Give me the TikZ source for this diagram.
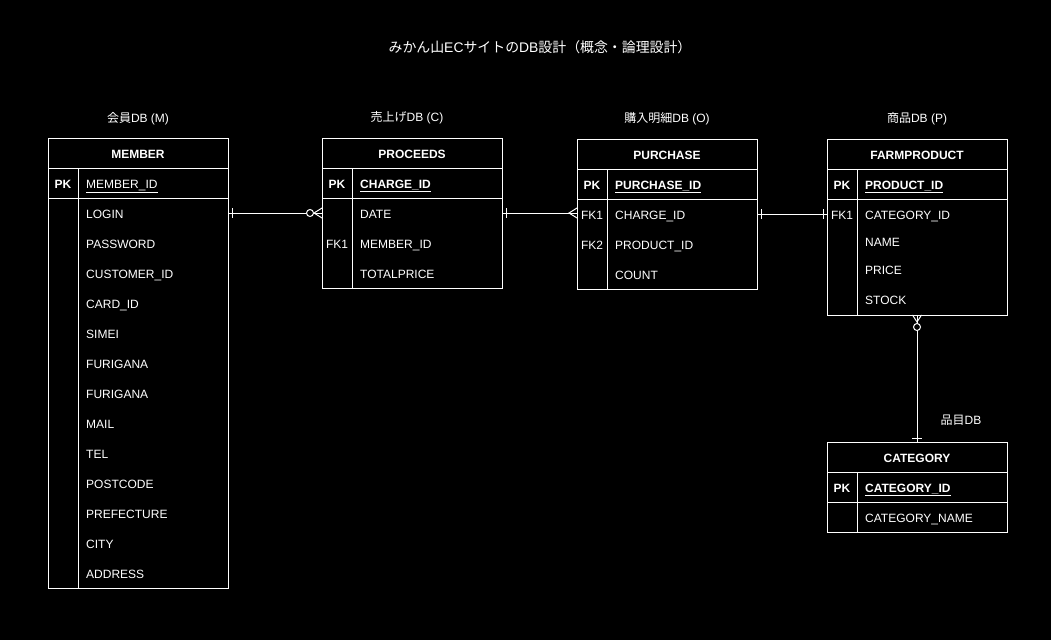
\documentclass[tikz,border=0pt]{standalone}
\usepackage{fontspec}
\setmainfont{Liberation Sans}
\newfontfamily\cjk{Noto Sans CJK JP}
\usetikzlibrary{calc}
\tikzset{x=1pt,y=-1pt,
 tbl/.style={draw=white, line width=1pt, anchor=north west, minimum width=180pt, inner sep=0pt, outer sep=0pt},
 sep/.style={draw=white, line width=1pt},
 txt/.style={text=white, font=\fontsize{12}{14}\selectfont, inner sep=0pt, text height=8.6pt, text depth=0pt, yshift=-0.8pt},
 hdr/.style={txt, font=\fontsize{12}{14}\selectfont\bfseries},
 fld/.style={txt, anchor=west},
 pkf/.style={txt, anchor=west, font=\fontsize{12}{14}\selectfont\bfseries},
 key/.style={txt},
 keyb/.style={txt, font=\fontsize{12}{14}\selectfont\bfseries},
 lbl/.style={txt},
 conn/.style={draw=white, line width=1pt}}
\begin{document}
\begin{tikzpicture}
\useasboundingbox (0,0) rectangle (1051,640);
\fill[black] (0,0) rectangle (1051,640);

% title and labels
\node[lbl, font=\fontsize{13.9}{16}\selectfont, text height=10pt] (title) at (540,47) {{\cjk みかん山}EC{\cjk サイトの}DB{\cjk 設計（概念・論理設計）}};
\node[lbl] (lm) at (138,117) {{\cjk 会員}DB (M)};
\node[lbl] (lc) at (407,116) {{\cjk 売上げ}DB (C)};
\node[lbl] (lo) at (667,117) {{\cjk 購入明細}DB (O)};
\node[lbl] (lp) at (917,117) {{\cjk 商品}DB (P)};
\node[lbl] (lk) at (961,419) {{\cjk 品目}DB};

% MEMBER
\node[tbl, minimum height=450pt] (member) at (48,138) {};
\draw[sep] (48,168) -- (228,168);
\draw[sep] (48,198) -- (228,198);
\draw[sep] (78,168) -- (78,588);
\node[hdr] (mh) at (138,153) {MEMBER};
\node[keyb] (mpk) at (63,183) {PK};
\node[fld] (mid) at (86,183) {\underline{MEMBER\_ID}};
\node[fld] (mlogin) at (86,213) {LOGIN};
\node[fld] (mpass) at (86,243) {PASSWORD};
\node[fld] (mcust) at (86,273) {CUSTOMER\_ID};
\node[fld] (mcard) at (86,303) {CARD\_ID};
\node[fld] (msimei) at (86,333) {SIMEI};
\node[fld] (mfuri1) at (86,363) {FURIGANA};
\node[fld] (mfuri2) at (86,393) {FURIGANA};
\node[fld] (mmail) at (86,423) {MAIL};
\node[fld] (mtel) at (86,453) {TEL};
\node[fld] (mpost) at (86,483) {POSTCODE};
\node[fld] (mpref) at (86,513) {PREFECTURE};
\node[fld] (mcity) at (86,543) {CITY};
\node[fld] (maddr) at (86,573) {ADDRESS};

% PROCEEDS
\node[tbl, minimum height=150pt] (proceeds) at (322,138) {};
\draw[sep] (322,168) -- (502,168);
\draw[sep] (322,198) -- (502,198);
\draw[sep] (352,168) -- (352,288);
\node[hdr] (ph) at (412,153) {PROCEEDS};
\node[keyb] (ppk) at (337,183) {PK};
\node[pkf] (pid) at (360,183) {\underline{CHARGE\_ID}};
\node[fld] (pdate) at (360,213) {DATE};
\node[key] (pfk) at (337,243) {FK1};
\node[fld] (pmem) at (360,243) {MEMBER\_ID};
\node[fld] (ptot) at (360,273) {TOTALPRICE};

% PURCHASE
\node[tbl, minimum height=150pt] (purchase) at (577,139) {};
\draw[sep] (577,169) -- (757,169);
\draw[sep] (577,199) -- (757,199);
\draw[sep] (607,169) -- (607,289);
\node[hdr] (uh) at (667,154) {PURCHASE};
\node[keyb] (upk) at (592,184) {PK};
\node[pkf] (uid) at (615,184) {\underline{PURCHASE\_ID}};
\node[key] (ufk1) at (592,214) {FK1};
\node[fld] (uchg) at (615,214) {CHARGE\_ID};
\node[key] (ufk2) at (592,244) {FK2};
\node[fld] (uprod) at (615,244) {PRODUCT\_ID};
\node[fld] (ucnt) at (615,274) {COUNT};

% FARMPRODUCT
\node[tbl, minimum height=176pt] (farm) at (827,139) {};
\draw[sep] (827,169) -- (1007,169);
\draw[sep] (827,199) -- (1007,199);
\draw[sep] (857,169) -- (857,315);
\node[hdr] (fh) at (917,154) {FARMPRODUCT};
\node[keyb] (fpk) at (842,184) {PK};
\node[pkf] (fid) at (865,184) {\underline{PRODUCT\_ID}};
\node[key] (ffk) at (842,214) {FK1};
\node[fld] (fcat) at (865,214) {CATEGORY\_ID};
\node[fld] (fname) at (865,241) {NAME};
\node[fld] (fprice) at (865,269) {PRICE};
\node[fld] (fstock) at (865,299) {STOCK};

% CATEGORY
\node[tbl, minimum height=90pt] (category) at (827,442) {};
\draw[sep] (827,472) -- (1007,472);
\draw[sep] (827,502) -- (1007,502);
\draw[sep] (857,472) -- (857,532);
\node[hdr] (ch) at (917,457) {CATEGORY};
\node[keyb] (cpk) at (842,487) {PK};
\node[pkf] (cid) at (865,487) {\underline{CATEGORY\_ID}};
\node[fld] (cname) at (865,517) {CATEGORY\_NAME};

% connectors
\coordinate (r1a) at (member.east |- 0,213);
\coordinate (r1b) at (proceeds.west |- 0,213);
\draw[conn] (r1a) -- (r1b);
\draw[conn] ($(r1a)+(4,-5)$) -- ($(r1a)+(4,5)$);
\draw[conn] ($(r1b)+(0,-5)$) -- ($(r1b)+(-8,0)$) -- ($(r1b)+(0,5)$);
\draw[conn, fill=black] ($(r1b)+(-12,0)$) circle (3.5pt);

\coordinate (r2a) at (proceeds.east |- 0,213);
\coordinate (r2b) at (purchase.west |- 0,213);
\draw[conn] (r2a) -- (r2b);
\draw[conn] ($(r2a)+(4,-5)$) -- ($(r2a)+(4,5)$);
\draw[conn] ($(r2b)+(0,-5)$) -- ($(r2b)+(-8,0)$) -- ($(r2b)+(0,5)$);

\coordinate (r3a) at (purchase.east |- 0,214);
\coordinate (r3b) at (farm.west |- 0,214);
\draw[conn] (r3a) -- (r3b);
\draw[conn] ($(r3a)+(4,-5)$) -- ($(r3a)+(4,5)$);
\draw[conn] ($(r3b)+(-4,-5)$) -- ($(r3b)+(-4,5)$);

\coordinate (r4a) at (farm.south);
\coordinate (r4b) at (category.north);
\draw[conn] (r4a) -- (r4b);
\draw[conn] ($(r4a)+(-4.5,0)$) -- ($(r4a)+(0,7)$) -- ($(r4a)+(4.5,0)$);
\draw[conn, fill=black] ($(r4a)+(0,12)$) circle (3.5pt);
\draw[conn] ($(r4b)+(-5,-4)$) -- ($(r4b)+(5,-4)$);
\end{tikzpicture}
\end{document}
